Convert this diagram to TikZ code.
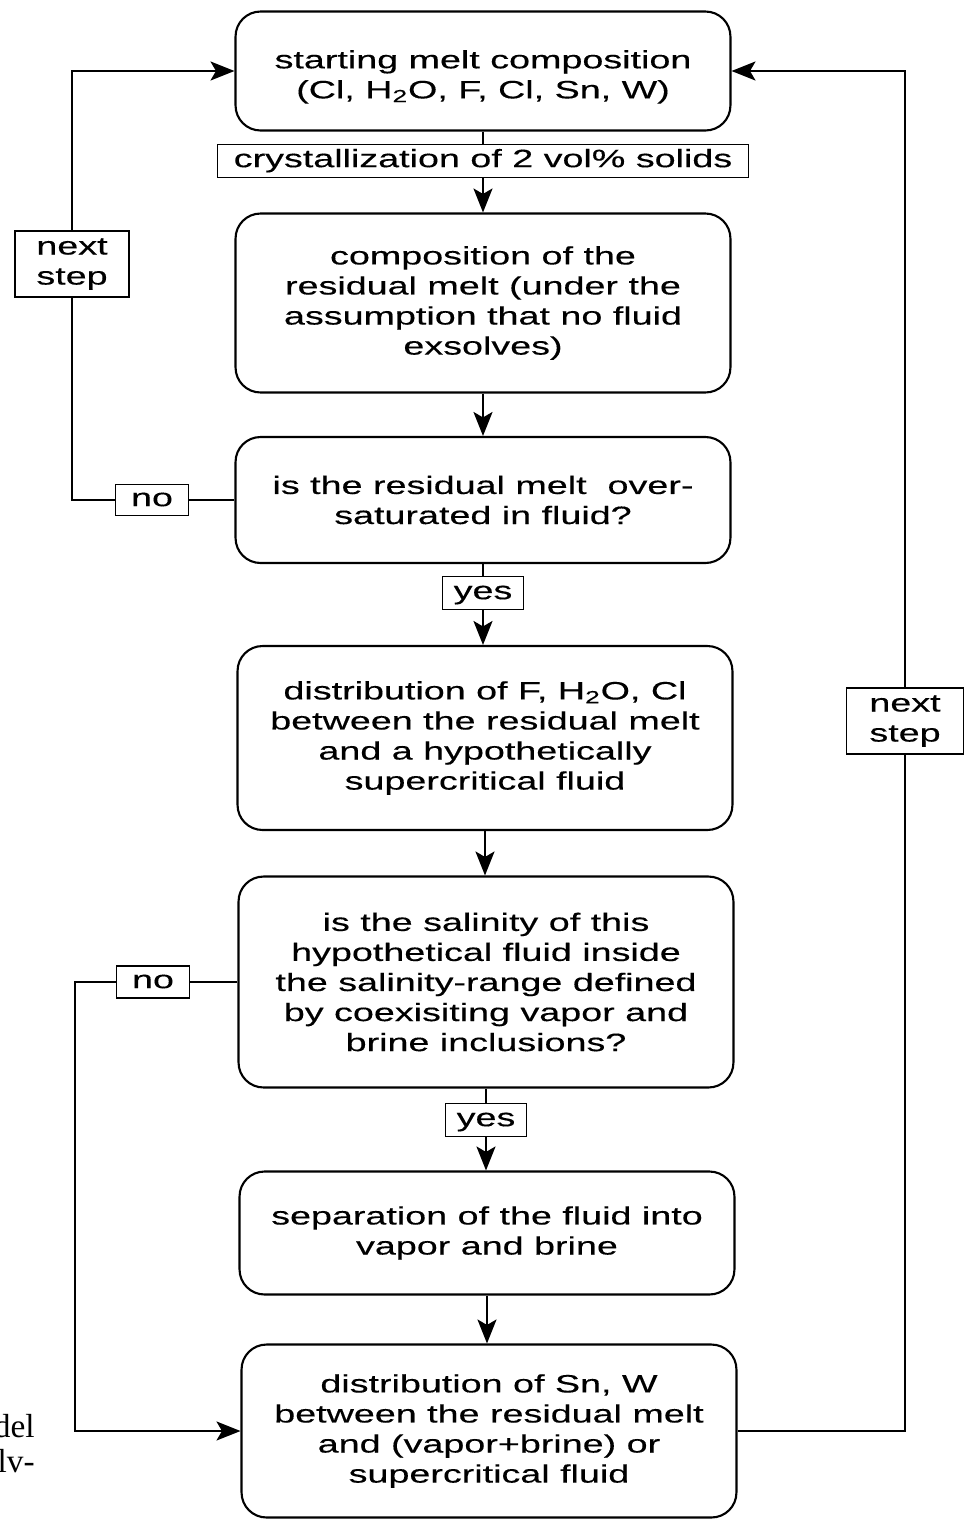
\documentclass[tikz,border=0pt]{standalone}
\usepackage{fontspec}
\setmainfont[FakeStretch=1.5,FakeBold=0.3]{Liberation Sans}
\newfontfamily\captionserif{Liberation Serif}
\usetikzlibrary{arrows.meta}
\tikzset{
  stepbox/.style={draw,line width=1.2pt,rounded corners=0.5cm,align=center,
    minimum width=9.9cm,inner sep=0pt,font=\fontsize{14.3pt}{17.1pt}\selectfont},
  tagbox/.style={draw,line width=0.7pt,fill=white,align=center,inner sep=0pt,
    font=\fontsize{14.3pt}{17.1pt}\selectfont},
  tagline/.style={tagbox,text height=0.9em,text depth=0.2em},
  flowline/.style={line width=1.2pt},
  flowarrow/.style={flowline,-{Stealth[length=4.8mm,width=3.8mm,inset=1.1mm]}},
  captionbit/.style={anchor=base east,inner sep=0pt,font=\captionserif\fontsize{19pt}{22pt}\selectfont}
}

\begin{document}
\begin{tikzpicture}[x=0.02cm,y=-0.02cm]
  \useasboundingbox (0,0) rectangle (964,1519);
  % main chain
  \node[stepbox,minimum height=2.38cm] (start) at (483,71) {\rule{0pt}{17pt}starting melt composition\\(Cl, H\textsubscript{2}O, F, Cl, Sn, W)};
  \node[tagline,minimum width=10.62cm,minimum height=0.66cm] (crystal) at (483,161) {crystallization of 2 vol\% solids};
  \node[stepbox,minimum height=3.58cm] (resid) at (483,303) {composition of the\\residual melt (under the\\assumption that no fluid\\exsolves)};
  \node[stepbox,minimum height=2.52cm] (oversat) at (483,500) {is the residual melt\ \ over-\\saturated in fluid?};
  \node[tagline,minimum width=1.62cm,minimum height=0.66cm] (yesup) at (483,593) {yes};
  \node[stepbox,minimum height=3.68cm] (distfluid) at (485,738) {distribution of F, H\textsubscript{2}O, Cl\\between the residual melt\\and a hypothetically\\supercritical fluid};
  \node[stepbox,minimum height=4.22cm] (salinity) at (486,982) {is the salinity of this\\hypothetical fluid inside\\the salinity-range defined\\by coexisiting vapor and\\brine inclusions?};
  \node[tagline,minimum width=1.62cm,minimum height=0.66cm] (yesdown) at (486,1120) {yes};
  \node[stepbox,minimum height=2.46cm] (separ) at (487,1233) {separation of the fluid into\\vapor and brine};
  \node[stepbox,minimum height=3.46cm] (distsnw) at (489,1431) {distribution of Sn, W\\between the residual melt\\and (vapor+brine) or\\supercritical fluid};

  % loop labels
  \node[tagbox,minimum width=2.28cm,minimum height=1.32cm] (nextleft) at (72,264) {next\\step};
  \node[tagline,minimum width=1.46cm,minimum height=0.62cm] (noup) at (152,500) {no};
  \node[tagbox,minimum width=2.34cm,minimum height=1.32cm] (nextright) at (905,721) {next\\step};
  \node[tagline,minimum width=1.46cm,minimum height=0.64cm] (nodown) at (153,982) {no};
  \coordinate (lowturn) at (75,1431);

  \draw[flowline] (start) -- (crystal);
  \draw[flowarrow] (crystal) -- (crystal |- resid.north);
  \draw[flowarrow] (resid) -- (resid |- oversat.north);
  \draw[flowline] (oversat) -- (yesup);
  \draw[flowarrow] (yesup) -- (yesup |- distfluid.north);
  \draw[flowarrow] (distfluid) -- (distfluid |- salinity.north);
  \draw[flowline] (salinity) -- (yesdown);
  \draw[flowarrow] (yesdown) -- (yesdown |- separ.north);
  \draw[flowarrow] (separ) -- (separ |- distsnw.north);

  \draw[flowline] (oversat) -- (noup);
  \draw[flowline] (noup) -| (nextleft);
  \draw[flowarrow] (nextleft) |- (start);
  \draw[flowline] (distsnw) -| (nextright);
  \draw[flowarrow] (nextright) |- (start);
  \draw[flowline] (salinity) -- (nodown);
  \draw[flowarrow] (nodown) -| (lowturn) -- (distsnw);

  % cut caption at the left edge
  \node[captionbit] (capone) at (35,1437) {del};
  \node[captionbit] (captwo) at (35,1472) {lv-};
\end{tikzpicture}
\end{document}
